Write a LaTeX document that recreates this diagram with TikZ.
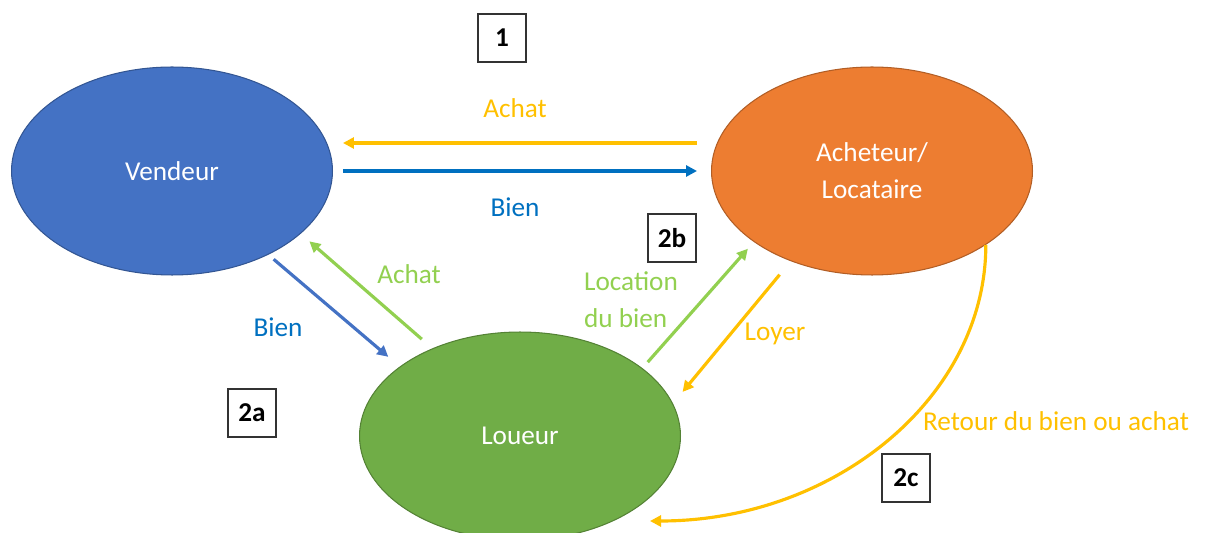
\documentclass[tikz,border=0pt]{standalone}
\usepackage{fontspec}
\setmainfont{Carlito}
\usepackage{tikz}
\usetikzlibrary{arrows.meta,shapes.geometric}

\definecolor{vendblue}{HTML}{4472C4}
\definecolor{achorange}{HTML}{ED7D31}
\definecolor{lougreen}{HTML}{70AD47}
\definecolor{payyellow}{HTML}{FFC000}
\definecolor{bienblue}{HTML}{0070C0}
\definecolor{rentgreen}{HTML}{92D050}

\begin{document}
\begin{tikzpicture}[x=0.02cm, y=-0.02cm,
		font=\fontsize{15.5}{21}\selectfont,
		party/.style={ellipse, draw=#1!75!black, fill=#1, text=white, line width=0.6pt,
			minimum width=6.42cm, minimum height=4.16cm, inner sep=0pt, align=center},
		flow/.style={draw=#1, line width=1.8pt, -{Triangle[length=0.22cm,width=0.22cm]}},
		flowlabel/.style={text=#1, align=left, inner sep=0pt},
		phase/.style={draw=black!80, line width=0.6pt, minimum width=0.96cm,
			minimum height=0.96cm, inner sep=0pt, font=\fontsize{15.5}{21}\selectfont\bfseries}]
		\useasboundingbox (0,0) rectangle (1209,533);

		% actors
		\node[party=vendblue] (vendeur) at (172,171) {Vendeur};
		\node[party=achorange] (acheteur) at (872,171) {Acheteur/\\Locataire};
		\node[party=lougreen] (loueur) at (520,436) {Loueur};
		\coordinate (retour) at (650,521);

		% 1 : vente directe
		\draw[flow=payyellow, shorten <=0.28cm, shorten >=0.2cm]
			([yshift=0.56cm]acheteur.west) -- ([yshift=0.56cm]vendeur.east);
		\draw[flow=bienblue, shorten <=0.2cm, shorten >=0.28cm]
			(vendeur.east) -- (acheteur.west);
		\node[flowlabel=payyellow] (achatTop) at (515,108) {Achat};
		\node[flowlabel=bienblue] (bienTop) at (515,207) {Bien};

		% 2a
		\draw[flow=vendblue, shorten <=0.14cm, shorten >=0.3cm] (vendeur.-41) -- (loueur.150);
		\draw[flow=rentgreen, shorten <=0.28cm, shorten >=0.23cm] (loueur.135) -- (vendeur.-26);
		\node[flowlabel=bienblue] (bienLeft) at (278,327) {Bien};
		\node[flowlabel=rentgreen] (achatLeft) at (409,274) {Achat};

		% 2b
		\draw[flow=rentgreen, shorten <=0.16cm, shorten >=0.18cm] (loueur.29) -- (acheteur.211);
		\draw[flow=payyellow, shorten <=0.35cm, shorten >=0.3cm] (acheteur.228) -- (loueur.12);
		\node[flowlabel=rentgreen] (location) at (631,300) {Location\\du bien};
		\node[flowlabel=payyellow] (loyer) at (775,334) {Loyer};

		% 2c
		\draw[flow=payyellow] (acheteur.-33) .. controls +(0,152) and +(185,0) .. (retour);
		\node[flowlabel=payyellow] (retourLabel) at (1056,421) {Retour du bien ou achat};

		\node[phase] (p1) at (502,38) {1};
		\node[phase] (p2a) at (252,413) {2a};
		\node[phase] (p2b) at (672,238) {2b};
		\node[phase] (p2c) at (906,478) {2c};
	\end{tikzpicture}
\end{document}
